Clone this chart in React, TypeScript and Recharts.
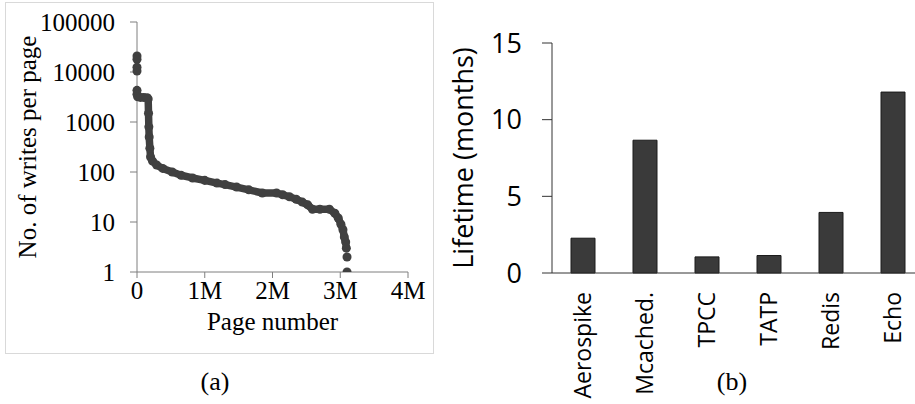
import React from "react";
import { ScatterChart, Scatter, BarChart, Bar, XAxis, YAxis, ZAxis, Label } from "recharts";

// (a) writes per page, page number in millions (sorted curve)
const curvePages = [
  0, 0, 0.01, 0.05, 0.1, 0.15, 0.165, 0.17, 0.175, 0.18, 0.19, 0.2, 0.23, 0.29, 0.38, 0.52,
  0.65, 0.82, 1.0, 1.18, 1.3, 1.47, 1.65, 1.85, 2.06, 2.15, 2.25, 2.35, 2.44, 2.52, 2.59,
  2.7, 2.84, 2.92, 2.97, 3.01, 3.04, 3.06, 3.08, 3.09,
];
const curveWrites = [
  4300, 3600, 3200, 3100, 3100, 3050, 2900, 1500, 800, 500, 300, 200, 165, 138, 118, 100,
  86, 76, 68, 60, 56, 50, 44, 38, 38, 35, 32, 28.5, 25, 22, 18,
  18, 18, 15, 12, 9, 7, 5, 4, 3,
];
// isolated points (hot pages at the start, coldest at the end)
const dotPages = [0, 0, 0, 0, 3.1, 3.1];
const dotWrites = [21000, 18000, 12500, 10500, 2, 1];

const pageTicks = [0, 1, 2, 3, 4];
const pageTickLabels = ["0", "1M", "2M", "3M", "4M"];
const writeTicks = [1, 10, 100, 1000, 10000, 100000];

// (b) lifetime per workload
const workloads = ["Aerospike", "Mcached.", "TPCC", "TATP", "Redis", "Echo"];
const lifetimeMonths = [2.27, 8.66, 1.05, 1.14, 3.95, 11.8];
const lifetimeTicks = [0, 5, 10, 15];

const curveData = curvePages.map((x, i) => ({ x, y: curveWrites[i] }));
const dotData = dotPages.map((x, i) => ({ x, y: dotWrites[i] }));
const barData = workloads.map((name, i) => ({ name, months: lifetimeMonths[i] }));

const serif = "Liberation Serif, Times New Roman, serif";
const sans = "Open Sans, sans-serif";
const markColor = "#404040";

function WorkloadTick({ x, y, payload }: any) {
  return (
    <text
      x={x}
      y={y}
      transform={`rotate(-90, ${x}, ${y})`}
      textAnchor="end"
      dy="0.35em"
      fill="#000"
      fontSize={23}
      fontFamily={sans}
    >
      {payload.value}
    </text>
  );
}

function WritesChart() {
  return (
    <ScatterChart width={433} height={360} margin={{ top: 22, right: 25, bottom: 0, left: 0 }}>
      <XAxis
        type="number"
        dataKey="x"
        domain={[0, 4]}
        ticks={pageTicks}
        tickFormatter={(v: number) => pageTickLabels[pageTicks.indexOf(v)]}
        height={88}
        stroke="#7f7f7f"
        tickSize={6}
        tickMargin={3}
        tick={{ fill: "#000", fontSize: 25, fontFamily: serif }}
      >
        <Label
          value="Page number"
          position="insideTop"
          offset={40}
          style={{ fill: "#000", fontSize: 25, fontFamily: serif }}
        />
      </XAxis>
      <YAxis
        type="number"
        dataKey="y"
        scale="log"
        domain={[1, 100000]}
        ticks={writeTicks}
        allowDataOverflow
        width={137}
        stroke="#7f7f7f"
        tickSize={7}
        tickMargin={15}
        tick={{ fill: "#000", fontSize: 25, fontFamily: serif }}
      >
        <Label
          value="No. of writes per page"
          angle={-90}
          position="insideLeft"
          offset={27}
          style={{ fill: "#000", fontSize: 25, fontFamily: serif, textAnchor: "middle" }}
        />
      </YAxis>
      <ZAxis range={[44, 44]} />
      <Scatter
        data={curveData}
        fill={markColor}
        line={{ stroke: markColor, strokeWidth: 7.5, strokeLinejoin: "round", strokeLinecap: "round" }}
        isAnimationActive={false}
      />
      <Scatter data={dotData} fill={markColor} isAnimationActive={false} />
    </ScatterChart>
  );
}

function LifetimeChart() {
  return (
    <BarChart width={491} height={404} data={barData} margin={{ top: 43, right: 0, bottom: 0, left: 0 }}>
      <XAxis
        dataKey="name"
        interval={0}
        height={131}
        stroke="#333"
        tickLine={false}
        tickSize={0}
        tickMargin={19}
        tick={<WorkloadTick />}
      />
      <YAxis
        domain={[0, 15]}
        ticks={lifetimeTicks}
        width={119}
        stroke="#333"
        tickSize={10}
        tickMargin={20}
        tick={{ fill: "#000", fontSize: 27, fontFamily: sans }}
      >
        <Label
          value="Lifetime (months)"
          angle={-90}
          position="insideLeft"
          offset={30}
          style={{ fill: "#000", fontSize: 27, fontFamily: sans, textAnchor: "middle" }}
        />
      </YAxis>
      <Bar dataKey="months" fill="#3a3a3a" stroke="#1a1a1a" barSize={24} isAnimationActive={false} />
    </BarChart>
  );
}

export default function App() {
  return (
    <div
      style={{
        position: "absolute",
        left: 0,
        top: 0,
        width: 915,
        height: 404,
        overflow: "hidden",
        background: "#fff",
      }}
    >
      <div
        style={{
          position: "absolute",
          left: 5,
          top: 2,
          width: 427,
          height: 350,
          border: "1px solid #d9d9d9",
        }}
      />
      <div style={{ position: "absolute", left: 0, top: 0 }}>
        <WritesChart />
      </div>
      <div style={{ position: "absolute", left: 433, top: 0 }}>
        <LifetimeChart />
      </div>
      <div
        style={{
          position: "absolute",
          left: 175,
          top: 366,
          width: 80,
          textAlign: "center",
          fontFamily: serif,
          fontSize: 26,
          lineHeight: "32px",
        }}
      >
        (a)
      </div>
      <div
        style={{
          position: "absolute",
          left: 692,
          top: 366,
          width: 80,
          textAlign: "center",
          fontFamily: serif,
          fontSize: 26,
          lineHeight: "32px",
        }}
      >
        (b)
      </div>
    </div>
  );
}
